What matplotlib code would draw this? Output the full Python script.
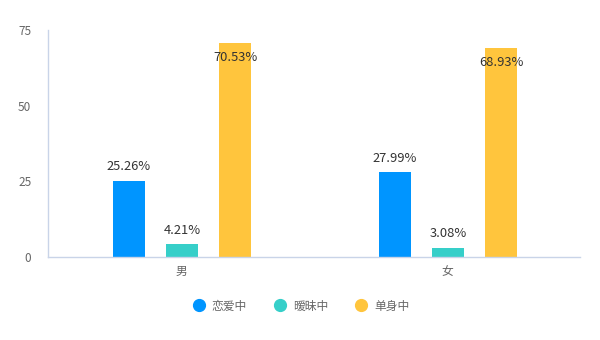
import numpy as np
import matplotlib
matplotlib.use('Agg')
import matplotlib.pyplot as plt
from matplotlib.lines import Line2D

plt.rcParams['font.family'] = ['Noto Sans CJK SC', 'DejaVu Sans']

categories = ['男', '女']
series_names = ['恋爱中', '暧昧中', '单身中']
in_love = [25.26, 27.99]
flirting = [4.21, 3.08]
single = [70.53, 68.93]
colors = ['#0095FF', '#36CFC9', '#FFC53D']

fig = plt.figure(figsize=(6, 3.4), dpi=100)
ax = fig.add_axes([0.08, 0.244, 0.8867, 0.668])

x = np.arange(len(categories))
width = 32 / 266
step = 53 / 266
for k, (vals, c) in enumerate(zip([in_love, flirting, single], colors)):
    pos = x + (k - 1) * step + 1 / 266
    ax.bar(pos, vals, width=width, color=c, zorder=2)
    for p, v in zip(pos, vals):
        if v > 60:
            # label pushed inside the bar top, like the original
            ax.annotate(f'{v:.2f}%', (p, v), xytext=(0, -10), textcoords='offset points',
                        ha='center', va='center', fontsize=9.3, color='#333333')
        else:
            ax.annotate(f'{v:.2f}%', (p, v), xytext=(0, 10), textcoords='offset points',
                        ha='center', va='center', fontsize=9.3, color='#333333')

ax.set_xlim(-0.5, 1.5)
ax.set_ylim(0, 75)
ax.set_yticks([0, 25, 50, 75])
ax.set_xticks(x)
ax.set_xticklabels(categories)
ax.tick_params(axis='both', length=0, labelsize=8.5, colors='#666666')
ax.tick_params(axis='y', pad=12)
ax.tick_params(axis='x', pad=6)
for s in ['top', 'right']:
    ax.spines[s].set_visible(False)
for s in ['left', 'bottom']:
    ax.spines[s].set_color('#C9D4E8')
    ax.spines[s].set_linewidth(1)

handles = [Line2D([0], [0], marker='o', linestyle='', markersize=8.5,
                  markerfacecolor=c, markeredgecolor=c) for c in colors]
fig.legend(handles, series_names, loc='center', bbox_to_anchor=(0.5, 0.1),
           ncol=3, frameon=False, fontsize=8.5, handletextpad=0.4,
           handlelength=1.4, columnspacing=2.1, labelcolor='#666666')

fig.savefig('out.png', dpi=100)
